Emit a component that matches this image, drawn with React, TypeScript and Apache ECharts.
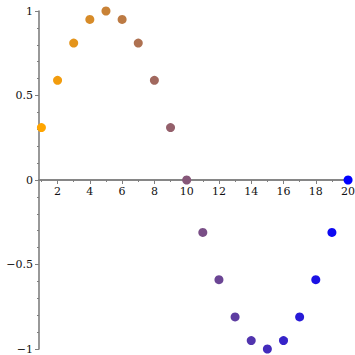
import React, { useEffect, useRef } from "react";
import * as echarts from "echarts";

const xValues = [1, 2, 3, 4, 5, 6, 7, 8, 9, 10, 11, 12, 13, 14, 15, 16, 17, 18, 19, 20];
const yValues = [0.31, 0.59, 0.81, 0.95, 1.0, 0.95, 0.81, 0.59, 0.31, 0.0, -0.31, -0.59, -0.81, -0.95, -1.0, -0.95, -0.81, -0.59, -0.31, 0.0];
const xMajorTicks = [2, 4, 6, 8, 10, 12, 14, 16, 18, 20];
const xMinorTicks = [1, 2, 3, 4, 5, 6, 7, 8, 9, 10, 11, 12, 13, 14, 15, 16, 17, 18, 19, 20];

const startColor = [255, 165, 0];
const endColor = [0, 0, 255];

function colorAt(i: number, n: number): string {
  const t = n > 1 ? i / (n - 1) : 0;
  const c = startColor.map((s, k) => Math.round(s + (endColor[k] - s) * t));
  return `rgb(${c[0]},${c[1]},${c[2]})`;
}

const axisColor = "#7f7f7f";
const font = "'DejaVu Serif', serif";

const GRID_TOP = 11;
const GRID_BOTTOM = 6;
const CHART_H = 355;
// x axis sits where y = 0 (middle of the symmetric y range)
const X_AXIS_OFFSET = -((CHART_H - GRID_TOP - GRID_BOTTOM) / 2);

export default function App() {
  const ref = useRef<HTMLDivElement>(null);
  useEffect(() => {
    document.body.style.margin = "0";
    if (!ref.current) return;
    const chart = echarts.init(ref.current, undefined, { renderer: "svg" });
    const data = xValues.map((x, i) => ({
      value: [x, yValues[i]],
      itemStyle: { color: colorAt(i, xValues.length), opacity: 1 },
    }));
    chart.setOption({
      animation: false,
      backgroundColor: "#ffffff",
      grid: {
        left: 39,
        right: 5,
        top: GRID_TOP,
        bottom: GRID_BOTTOM,
        containLabel: false,
        outerBounds: { left: -60, top: -60, right: -60, bottom: -60 },
      },
      xAxis: [
        {
          type: "value",
          min: 0.85,
          max: 20.12,
          position: "bottom",
          offset: X_AXIS_OFFSET,
          axisLine: { show: true, onZero: false, lineStyle: { color: axisColor, width: 1.6 } },
          axisTick: { show: true, customValues: xMajorTicks, length: 4, lineStyle: { color: axisColor, width: 1 } },
          axisLabel: {
            show: true,
            customValues: xMajorTicks,
            margin: 6,
            fontFamily: font,
            fontSize: 11,
            color: "#111",
          },
          splitLine: { show: false },
        },
        {
          type: "value",
          min: 0.85,
          max: 20.12,
          position: "bottom",
          offset: X_AXIS_OFFSET,
          axisLine: { show: true, onZero: false, lineStyle: { color: axisColor, width: 1.6 } },
          axisTick: { show: true, customValues: xMinorTicks, length: 2, lineStyle: { color: axisColor, width: 1 } },
          axisLabel: { show: false },
          splitLine: { show: false },
        },
      ],
      yAxis: {
        type: "value",
        min: -1,
        max: 1,
        interval: 0.5,
        axisLine: { show: true, onZero: true, lineStyle: { color: axisColor, width: 1.6 } },
        axisTick: { show: true, length: 4, lineStyle: { color: axisColor, width: 1 } },
        minorTick: { show: true, splitNumber: 5, length: 2, lineStyle: { color: axisColor, width: 1 } },
        axisLabel: {
          margin: 6,
          fontFamily: font,
          fontSize: 11,
          color: "#111",
          formatter: (v: number) => String(v).replace("-", "\u2212"),
        },
        splitLine: { show: false },
        minorSplitLine: { show: false },
      },
      series: [
        {
          type: "scatter",
          xAxisIndex: 0,
          symbol: "circle",
          symbolSize: 9,
          data,
          z: 5,
        },
      ],
    });
    return () => chart.dispose();
  }, []);
  return <div ref={ref} style={{ width: 355, height: 355 }} />;
}
